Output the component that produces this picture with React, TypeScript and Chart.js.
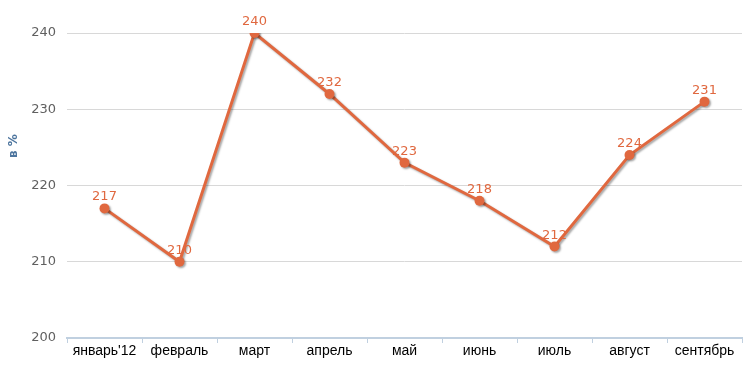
import React, { useEffect, useRef } from "react";
import { Chart, registerables } from "chart.js";

Chart.register(...registerables);

const categories = ["январь'12", "февраль", "март", "апрель", "май", "июнь", "июль", "август", "сентябрь"];
const values = [217, 210, 240, 232, 223, 218, 212, 224, 231];
const yTicks = [200, 210, 220, 230, 240];
const yTitle = "в %";

const LINE = "#E0683F";

const shadowPlugin = {
  id: "lineShadow",
  beforeDatasetDraw(chart: any) {
    const ctx = chart.ctx;
    ctx.save();
    ctx.shadowColor = "rgba(0,0,0,0.35)";
    ctx.shadowOffsetX = 1.5;
    ctx.shadowOffsetY = 1.5;
    ctx.shadowBlur = 2;
  },
  afterDatasetDraw(chart: any) {
    chart.ctx.restore();
  },
};

const labelPlugin = {
  id: "valueLabels",
  afterDatasetsDraw(chart: any) {
    const ctx = chart.ctx;
    const meta = chart.getDatasetMeta(0);
    ctx.save();
    ctx.font = "13px 'DejaVu Sans'";
    ctx.fillStyle = LINE;
    ctx.textAlign = "center";
    ctx.textBaseline = "alphabetic";
    meta.data.forEach((pt: any, i: number) => {
      ctx.fillText(String(values[i]), pt.x, pt.y - 8);
    });
    ctx.restore();
  },
};

const titlePlugin = {
  id: "yTitle",
  afterDraw(chart: any) {
    const ctx = chart.ctx;
    ctx.save();
    ctx.translate(14, 146);
    ctx.rotate(-Math.PI / 2);
    ctx.font = "bold 12px 'DejaVu Sans'";
    ctx.fillStyle = "#4D759E";
    ctx.textAlign = "center";
    ctx.textBaseline = "middle";
    ctx.fillText(yTitle, 0, 0);
    ctx.restore();
  },
};

export default function App() {
  const ref = useRef<HTMLCanvasElement>(null);
  useEffect(() => {
    if (!ref.current) return;
    const chart = new Chart(ref.current, {
      type: "line",
      data: {
        labels: categories,
        datasets: [
          {
            data: values,
            borderColor: LINE,
            backgroundColor: LINE,
            borderWidth: 3,
            pointRadius: 5,
            pointBackgroundColor: LINE,
            pointBorderWidth: 0,
            tension: 0,
          },
        ],
      },
      options: {
        animation: false,
        responsive: false,
        maintainAspectRatio: false,
        layout: { padding: { top: 33, right: 13, left: 0, bottom: 0 } },
        plugins: { legend: { display: false }, tooltip: { enabled: false } },
        scales: {
          x: {
            offset: true,
            grid: {
              offset: true,
              drawOnChartArea: false,
              drawTicks: true,
              tickLength: 5,
              color: "#C0D0E0",
            },
            border: { display: true, color: "#C0D0E0", width: 2 },
            ticks: {
              color: "#000000",
              font: { family: "'Liberation Sans Narrow', 'Liberation Sans'", size: 14 },
              padding: 0,
              maxRotation: 0,
              autoSkip: false,
            },
            afterFit(scale: any) {
              scale.height = 50;
            },
          },
          y: {
            min: 200,
            max: 240,
            afterBuildTicks(scale: any) {
              scale.ticks = yTicks.map((v) => ({ value: v }));
            },
            grid: { color: "#D8D8D8", lineWidth: 1, drawTicks: false },
            border: { display: false },
            ticks: {
              color: "#606060",
              font: { family: "'DejaVu Sans'", size: 13 },
              padding: 11,
            },
            afterFit(scale: any) {
              scale.width = 67;
            },
          },
        },
      },
      plugins: [shadowPlugin, labelPlugin, titlePlugin],
    });
    return () => chart.destroy();
  }, []);
  return (
    <div style={{ position: "fixed", left: 0, top: 0, width: 755, height: 388, background: "#fff" }}>
      <canvas ref={ref} width={755} height={388} style={{ width: 755, height: 388 }} />
    </div>
  );
}
